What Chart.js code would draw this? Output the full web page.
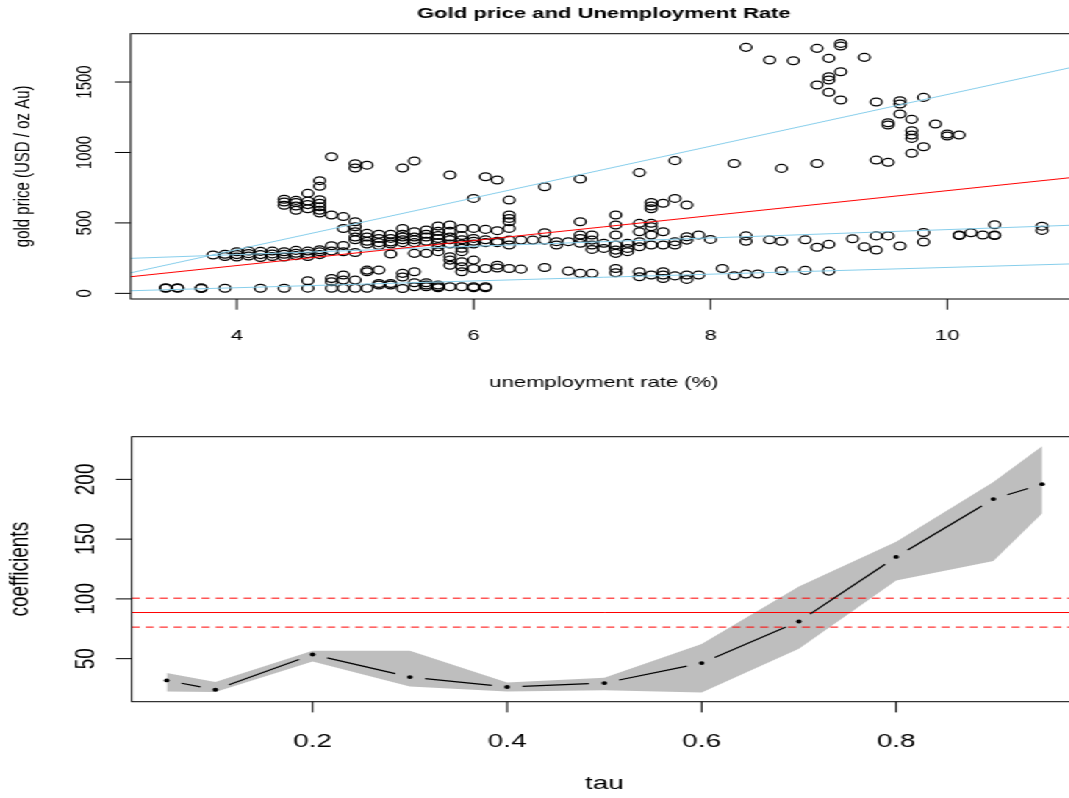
<!DOCTYPE html>
<html>
<head>
<meta charset="utf-8">
<script src="https://cdn.jsdelivr.net/npm/chart.js@4.4.1/dist/chart.umd.min.js"></script>
<style>
  html, body { margin: 0; padding: 0; background: #fff; overflow: hidden; }
  /* the reference is stretched horizontally, so draw narrow and scale the whole stage */
  #stage { position: absolute; left: 0; top: 0; width: 748px; height: 798px; transform: scaleX(1.47); transform-origin: 0 0; }
  #stage canvas { position: absolute; left: 0; }
</style>
</head>
<body>
<div id="stage">
  <canvas id="goldChart" width="748" height="400" style="top:0;width:748px;height:400px"></canvas>
  <canvas id="tauChart" width="748" height="398" style="top:400px;width:748px;height:398px"></canvas>
</div>
<script>
// ---- top panel: gold price vs unemployment rate ----
const unemploymentRates = [3.4, 3.5, 3.7, 3.8, 3.9, 4.0, 4.1, 4.2, 4.3, 4.4, 4.5, 4.6, 4.7, 4.8, 4.9, 5.0,
  5.1, 5.2, 5.3, 5.4, 5.5, 5.6, 5.7, 5.8, 5.9, 6.0, 6.1, 6.2, 6.3, 6.4, 6.5, 6.6, 6.7, 6.8, 6.9, 7.0,
  7.1, 7.2, 7.3, 7.4, 7.5, 7.6, 7.7, 7.8, 7.9, 8.0, 8.1, 8.2, 8.3, 8.4, 8.5, 8.6, 8.7, 8.8, 8.9, 9.0,
  9.1, 9.2, 9.3, 9.4, 9.5, 9.6, 9.7, 9.8, 9.9, 10.0, 10.1, 10.2, 10.3, 10.4, 10.8];

// gold prices observed at each unemployment rate above (same index)
const goldPrices = [
  [36, 40], [36, 40], [35, 39], [272], [36, 262, 278], [258, 275, 295], [265, 282, 300],
  [36, 255, 275, 298], [262, 280, 300], [36, 258, 278, 295, 625, 648, 668],
  [268, 285, 305, 590, 620, 645, 660], [37, 90, 262, 282, 300, 600, 630, 655, 710],
  [275, 295, 310, 570, 590, 615, 640, 665, 760, 800], [36, 82, 106, 300, 338, 556, 970],
  [36, 94, 130, 295, 340, 460, 545], [36, 94, 290, 380, 400, 437, 473, 508, 890, 920],
  [36, 153, 165, 350, 370, 400, 426, 910], [59, 70, 165, 340, 360, 390, 420],
  [59, 70, 279, 350, 365, 390, 420], [35, 116, 142, 360, 380, 400, 420, 461, 890],
  [47, 75, 153, 284, 360, 380, 400, 437, 940], [47, 59, 75, 284, 370, 400, 420, 450],
  [40, 47, 59, 296, 331, 360, 390, 410, 440, 478], [47, 200, 236, 260, 350, 380, 400, 440, 485, 840],
  [47, 153, 189, 225, 296, 320, 350, 380, 410, 461], [40, 47, 177, 236, 350, 370, 390, 461, 674],
  [40, 47, 177, 360, 380, 454, 828], [180, 200, 360, 370, 445, 805],
  [177, 343, 378, 461, 508, 532, 556, 662], [172, 378], [378], [184, 378, 430, 757], [343, 367],
  [158, 367], [142, 355, 390, 414, 508, 812], [142, 312, 343, 378, 414], [319, 355],
  [146, 177, 284, 307, 343, 414, 485, 556], [296, 319, 355], [118, 153, 331, 367, 437, 497, 857],
  [130, 343, 414, 473, 497, 600, 620, 645], [106, 130, 153, 343, 437, 640], [124, 343, 367, 674, 942],
  [99, 130, 378, 402, 627], [130, 414], [383], [177], [125, 922], [137, 370, 408, 1746], [137],
  [380, 1656], [160, 370, 887], [1651], [163, 380], [327, 922, 1479, 1739],
  [158, 348, 1427, 1514, 1538, 1668], [1372, 1573, 1755, 1774], [388], [330, 1675],
  [308, 408, 946, 1358], [408, 930, 1195, 1211], [336, 1273, 1344, 1367],
  [994, 1100, 1124, 1154, 1235], [365, 432, 1041, 1391], [1202], [1117, 1131], [410, 414, 1124],
  [430], [414], [410, 414, 487], [447, 477]
];

// fitted lines: least squares, then quantile fits at tau 0.1, 0.5, 0.9
const fitIntercepts = [-157, -56, 156.6, -423.8];
const fitSlopes = [88.6, 24.0, 29.6, 183.5];
const fitColors = ['#ff0000', '#87ceeb', '#87ceeb', '#87ceeb'];

const topXRange = [3.104, 11.096];
const topYRange = [-40, 1843];
const topXTicks = [4, 6, 8, 10];
const topYTicks = [0, 500, 1000, 1500];

// ---- bottom panel: quantile regression slope by tau ----
const taus = [0.05, 0.1, 0.2, 0.3, 0.4, 0.5, 0.6, 0.7, 0.8, 0.9, 0.95];
const tauCoefs = [31.8, 24.0, 53.5, 34.6, 26.3, 29.6, 46.3, 81.1, 135.1, 183.5, 196.0];
const tauLower = [22.6, 22.1, 47.7, 26.8, 22.6, 23.6, 21.8, 58.3, 115.3, 131.7, 171.5];
const tauUpper = [38.0, 30.5, 56.6, 56.6, 30.1, 34.1, 62.2, 110.3, 147.8, 197.9, 227.7];
const olsCoef = 88.6;
const olsBounds = [76.4, 100.6];

const bottomXRange = [0.014, 0.986];
const bottomYRange = [14, 235.7];
const bottomXTicks = [0.2, 0.4, 0.6, 0.8];
const bottomYTicks = [50, 100, 150, 200];

const FONT = '"Liberation Sans", Arial, Helvetica, sans-serif';

// draws an R style frame: box, outward ticks, rotated y labels, titles
const rFrame = {
    id: 'rFrame',
    afterDraw(chart, args, o) {
        const ctx = chart.ctx;
        const a = chart.chartArea;
        const xs = chart.scales.x, ys = chart.scales.y;
        ctx.save();
        ctx.strokeStyle = '#000';
        ctx.lineWidth = 1;
        ctx.strokeRect(a.left, a.top, a.right - a.left, a.bottom - a.top);
        ctx.beginPath();
        o.xTicks.forEach(v => {
            const px = xs.getPixelForValue(v);
            ctx.moveTo(px, a.bottom);
            ctx.lineTo(px, a.bottom + o.tickLen);
        });
        o.yTicks.forEach(v => {
            const py = ys.getPixelForValue(v);
            ctx.moveTo(a.left, py);
            ctx.lineTo(a.left - o.tickLen, py);
        });
        ctx.stroke();

        ctx.fillStyle = '#000';
        ctx.textAlign = 'center';
        ctx.textBaseline = 'alphabetic';
        ctx.font = o.fontSize + 'px ' + FONT;
        o.xTicks.forEach(v => ctx.fillText(String(v), xs.getPixelForValue(v), o.xTickBase));
        o.yTicks.forEach(v => {
            ctx.save();
            ctx.translate(o.yTickBase, ys.getPixelForValue(v));
            ctx.rotate(-Math.PI / 2);
            ctx.fillText(String(v), 0, 0);
            ctx.restore();
        });
        const cx = (a.left + a.right) / 2, cy = (a.top + a.bottom) / 2;
        ctx.fillText(o.xLabel, cx, o.xLabelBase);
        ctx.save();
        ctx.translate(o.yLabelBase, cy);
        ctx.rotate(-Math.PI / 2);
        ctx.fillText(o.yLabel, 0, 0);
        ctx.restore();
        if (o.title) {
            ctx.font = 'bold ' + o.titleSize + 'px ' + FONT;
            ctx.fillText(o.title, cx, o.titleBase);
        }
        ctx.restore();
    }
};

// R type="b": segments between points, cut short near each point
const gappedLine = {
    id: 'gappedLine',
    afterDatasetsDraw(chart, args, o) {
        if (o.datasetIndex === undefined) return;
        const pts = chart.getDatasetMeta(o.datasetIndex).data;
        const ctx = chart.ctx;
        ctx.save();
        ctx.strokeStyle = '#000';
        ctx.lineWidth = 1.2;
        ctx.beginPath();
        for (let i = 1; i < pts.length; i++) {
            const p = pts[i - 1], q = pts[i];
            const dx = q.x - p.x, dy = q.y - p.y;
            const len = Math.hypot(dx, dy);
            if (len <= 2 * o.gap) continue;
            const ux = dx / len, uy = dy / len;
            ctx.moveTo(p.x + ux * o.gap, p.y + uy * o.gap);
            ctx.lineTo(q.x - ux * o.gap, q.y - uy * o.gap);
        }
        ctx.stroke();
        ctx.restore();
    }
};

const hiddenScale = (range) => ({ type: 'linear', display: false, min: range[0], max: range[1] });

function drawGoldChart() {
    const points = [];
    unemploymentRates.forEach((rate, i) => {
        goldPrices[i].forEach(price => points.push({ x: rate, y: price }));
    });

    const fitLines = fitIntercepts.map((b, i) => ({
        data: topXRange.map(x => ({ x: x, y: b + fitSlopes[i] * x })),
        borderColor: fitColors[i],
        borderWidth: 1,
        pointRadius: 0,
        fill: false,
        order: 0
    }));

    new Chart(document.getElementById('goldChart'), {
        type: 'line',
        data: {
            datasets: fitLines.concat([{
                data: points,
                showLine: false,
                pointStyle: 'circle',
                pointRadius: 3.9,
                pointBorderWidth: 1.25,
                pointBorderColor: '#000',
                pointBackgroundColor: 'rgba(0,0,0,0)',
                order: 1
            }])
        },
        options: {
            responsive: false,
            devicePixelRatio: 1,
            animation: false,
            events: [],
            layout: { padding: { left: 88.9, top: 33.7, right: 15.3, bottom: 101 } },
            scales: { x: hiddenScale(topXRange), y: hiddenScale(topYRange) },
            plugins: {
                legend: { display: false },
                tooltip: { enabled: false },
                rFrame: {
                    xTicks: topXTicks, yTicks: topYTicks, tickLen: 10.7,
                    fontSize: 15, xTickBase: 340, yTickBase: 62.4,
                    xLabel: 'unemployment rate (%)', xLabelBase: 387,
                    yLabel: 'gold price (USD / oz Au)', yLabelBase: 19.9,
                    title: 'Gold price and Unemployment Rate', titleSize: 15, titleBase: 17.5
                }
            }
        },
        plugins: [rFrame]
    });
}

function drawTauChart() {
    const flat = (v) => bottomXRange.map(x => ({ x: x, y: v }));
    new Chart(document.getElementById('tauChart'), {
        type: 'line',
        data: {
            datasets: [
                {   // band lower edge
                    data: taus.map((t, i) => ({ x: t, y: tauLower[i] })),
                    borderColor: 'rgba(0,0,0,0)', borderWidth: 0, pointRadius: 0, fill: false, order: 3
                },
                {   // band upper edge, filled down to the lower edge
                    data: taus.map((t, i) => ({ x: t, y: tauUpper[i] })),
                    borderColor: 'rgba(0,0,0,0)', borderWidth: 0, pointRadius: 0,
                    fill: '-1', backgroundColor: '#bebebe', order: 3
                },
                { data: flat(olsCoef), borderColor: '#ff0000', borderWidth: 1, pointRadius: 0, fill: false, order: 2 },
                { data: flat(olsBounds[0]), borderColor: '#ff0000', borderWidth: 1, borderDash: [5.5, 4], pointRadius: 0, fill: false, order: 2 },
                { data: flat(olsBounds[1]), borderColor: '#ff0000', borderWidth: 1, borderDash: [5.5, 4], pointRadius: 0, fill: false, order: 2 },
                {
                    data: taus.map((t, i) => ({ x: t, y: tauCoefs[i] })),
                    showLine: false, pointRadius: 1.9, pointBorderWidth: 0,
                    pointBackgroundColor: '#000', order: 1
                }
            ]
        },
        options: {
            responsive: false,
            devicePixelRatio: 1,
            animation: false,
            events: [],
            layout: { padding: { left: 89.6, top: 36.7, right: 15.3, bottom: 96.3 } },
            scales: { x: hiddenScale(bottomXRange), y: hiddenScale(bottomYRange) },
            plugins: {
                legend: { display: false },
                tooltip: { enabled: false },
                gappedLine: { datasetIndex: 5, gap: 10.5 },
                rFrame: {
                    xTicks: bottomXTicks, yTicks: bottomYTicks, tickLen: 10.7,
                    fontSize: 19, xTickBase: 347, yTickBase: 63.5,
                    xLabel: 'tau', xLabelBase: 389,
                    yLabel: 'coefficients', yLabelBase: 19.3
                }
            }
        },
        plugins: [rFrame, gappedLine]
    });
}

drawGoldChart();
drawTauChart();
</script>
</body>
</html>
